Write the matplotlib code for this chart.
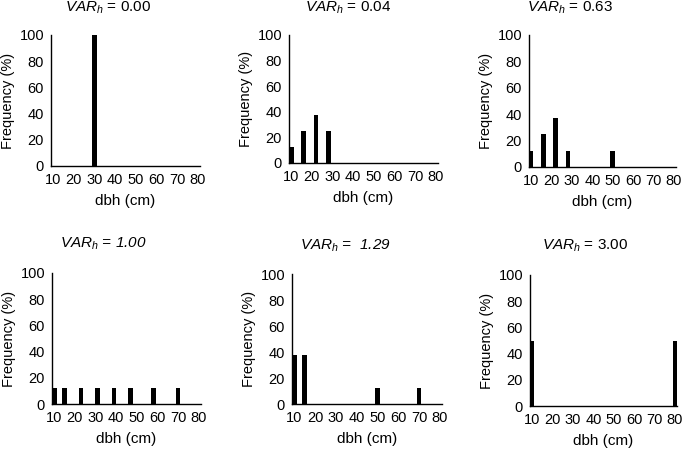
import matplotlib
matplotlib.use("Agg")
import matplotlib.pyplot as plt

plt.rcParams['font.family'] = ['Liberation Sans', 'DejaVu Sans']
plt.rcParams['mathtext.fontset'] = 'custom'
plt.rcParams['mathtext.rm'] = 'Liberation Sans'
plt.rcParams['mathtext.it'] = 'Liberation Sans:italic'

xticks = [10, 20, 30, 40, 50, 60, 70, 80]
yticks = [0, 20, 40, 60, 80, 100]

var_labels = ["0.00", "0.04", "0.63", "1.00", " 1.29", "3.00"]
var_italic = [False, False, False, True, True, False]

dbh_a = [30]
freq_a = [100]
dbh_b = [10, 16, 22, 28]
freq_b = [12.5, 25, 37.5, 25]
dbh_c = [10, 16, 22, 28, 50]
freq_c = [12.5, 25, 37.5, 12.5, 12.5]
dbh_d = [10, 15, 23, 31, 39, 47, 58, 70]
freq_d = [12.5, 12.5, 12.5, 12.5, 12.5, 12.5, 12.5, 12.5]
dbh_e = [10, 15, 50, 70]
freq_e = [37.5, 37.5, 12.5, 12.5]
dbh_f = [10, 80]
freq_f = [50, 50]

panels = [(dbh_a, freq_a), (dbh_b, freq_b), (dbh_c, freq_c),
          (dbh_d, freq_d), (dbh_e, freq_e), (dbh_f, freq_f)]

W, H = 685, 450
fig = plt.figure(figsize=(6.85, 4.5), dpi=100)

# axes boxes in pixels: left, right, top, bottom
boxes = [(51, 200, 35, 166), (289, 438, 35, 163), (529, 676, 35, 167),
         (52, 201, 273, 404), (292, 442, 274, 404), (530, 677, 275, 406)]
title_pos = [(108, 8), (348, 8), (570, 8), (103, 244), (345, 246), (585, 246)]

for i, ((dbh, freq), (l, r, t, b)) in enumerate(zip(panels, boxes)):
    ax = fig.add_axes([l / W, 1 - b / H, (r - l) / W, (b - t) / H])
    ax.bar(dbh, freq, width=2.2, color='black', align='center')
    ax.set_xlim(8.9, 81.1)
    ax.set_ylim(0, 100)
    ax.set_xticks(xticks)
    ax.set_yticks(yticks)
    ax.tick_params(length=0, labelsize=10.5, pad=5)
    for s in ['top', 'right']:
        ax.spines[s].set_visible(False)
    for s in ['left', 'bottom']:
        ax.spines[s].set_linewidth(1.0)
        ax.spines[s].set_color('black')
    ax.set_xlabel("dbh (cm)", fontsize=11, labelpad=5)
    ax.set_ylabel("Frequency (%)", fontsize=10.5, labelpad=3)
    tx, ty = title_pos[i]
    fig.text(tx / W, 1 - ty / H, r"$VAR_h$" + " = " + var_labels[i],
             ha='center', va='center', fontsize=11,
             fontstyle='italic' if var_italic[i] else 'normal')

fig.savefig("out.png", dpi=100)
